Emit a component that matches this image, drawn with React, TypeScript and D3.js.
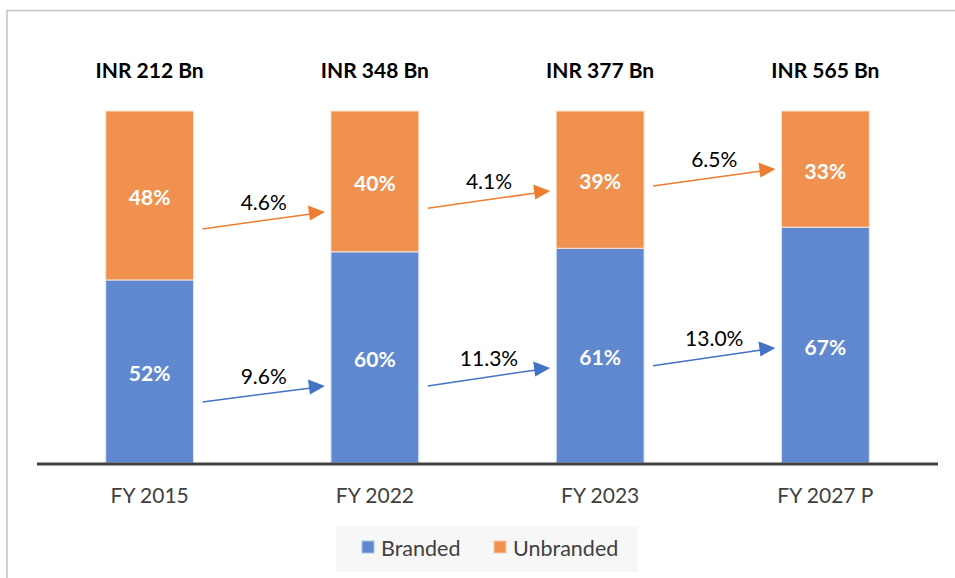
import React from "react";
import * as d3 from "d3";

const categories = ["FY 2015", "FY 2022", "FY 2023", "FY 2027 P"];
const branded = [52, 60, 61, 67];
const unbranded = [48, 40, 39, 33];
const totalsBn = [212, 348, 377, 565];
// CAGR arrows between consecutive bars: start/end level in percent of bar height
const orangeCagr = ["4.6%", "4.1%", "6.5%"];
const orangeFrom = [66.5, 72.4, 78.7];
const orangeTo = [71.3, 77.3, 83.5];
const blueCagr = ["9.6%", "11.3%", "13.0%"];
const blueFrom = [17.3, 21.9, 27.6];
const blueTo = [21.9, 27.0, 32.7];

const W = 955;
const H = 578;
const BLUE = "#6088CF";
const ORANGE = "#F0914F";
const BLUE_ARROW = "#4472C4";
const ORANGE_ARROW = "#ED7D31";
const FONT = "Lato, 'Open Sans', sans-serif";
const FS = 21;

export default function App() {
  const x = d3
    .scaleBand<string>()
    .domain(categories)
    .range([37, 938])
    .paddingInner(0.61)
    .paddingOuter(0.305);
  const y = d3.scaleLinear().domain([0, 100]).range([463, 111]);
  const bw = x.bandwidth();

  const stacks = categories.map((c, i) => ({
    c,
    b: branded[i],
    u: unbranded[i],
    t: totalsBn[i],
  }));

  const arrow = (
    i: number,
    from: number,
    to: number,
    label: string,
    color: string,
    id: string
  ) => {
    const x0 = (x(categories[i]) as number) + bw + 9;
    const x1 = (x(categories[i + 1]) as number) - 6;
    const y0 = y(from);
    const y1 = y(to);
    const mx = (x0 + x1) / 2;
    const my = (y0 + y1) / 2;
    return (
      <g key={id + i}>
        <line
          x1={x0}
          y1={y0}
          x2={x1 - 14}
          y2={y1 + 2}
          stroke={color}
          strokeWidth={1.5}
        />
        <path
          d={`M${x1},${y1} L${x1 - 17},${y1 - 6.5} L${x1 - 15},${y1 + 8.5} Z`}
          fill={color}
        />
        <text
          x={mx}
          y={my - 19}
          textAnchor="middle"
          dominantBaseline="central"
          fontSize={FS}
          fill="#000"
          fontFamily={FONT}
        >
          {label}
        </text>
      </g>
    );
  };

  return (
    <svg
      width={W}
      height={H}
      style={{ position: "absolute", left: 0, top: 0, background: "#fff" }}
    >
      <rect
        x={7}
        y={10.5}
        width={W + 20}
        height={H + 20}
        fill="none"
        stroke="#c4c4c4"
        strokeWidth={1.5}
      />
      {stacks.map((s) => {
        const bx = x(s.c) as number;
        const cx = bx + bw / 2;
        return (
          <g key={s.c}>
            <rect
              x={bx}
              y={y(s.b)}
              width={bw}
              height={y(0) - y(s.b)}
              fill={BLUE}
              stroke="#dfe7f6"
              strokeWidth={1}
            />
            <rect
              x={bx}
              y={y(s.b + s.u)}
              width={bw}
              height={y(s.b) - y(s.b + s.u)}
              fill={ORANGE}
              stroke="#fbe3d3"
              strokeWidth={1}
            />
            <text
              x={cx}
              y={(y(0) + y(s.b)) / 2 + 1}
              textAnchor="middle"
              dominantBaseline="central"
              fill="#fff"
              fontWeight="bold"
              fontSize={FS}
              fontFamily={FONT}
            >
              {s.b}%
            </text>
            <text
              x={cx}
              y={(y(s.b) + y(s.b + s.u)) / 2 + 1}
              textAnchor="middle"
              dominantBaseline="central"
              fill="#fff"
              fontWeight="bold"
              fontSize={FS}
              fontFamily={FONT}
            >
              {s.u}%
            </text>
            <text
              x={cx}
              y={69}
              textAnchor="middle"
              dominantBaseline="central"
              fill="#000"
              fontWeight="bold"
              fontSize={FS}
              fontFamily={FONT}
            >
              {`INR ${s.t} Bn`}
            </text>
            <text
              x={cx}
              y={494}
              textAnchor="middle"
              dominantBaseline="central"
              fill="#404040"
              fontSize={FS}
              fontFamily={FONT}
            >
              {s.c}
            </text>
          </g>
        );
      })}
      <line x1={37} x2={938} y1={464} y2={464} stroke="#404040" strokeWidth={3} />
      {orangeCagr.map((l, i) =>
        arrow(i, orangeFrom[i], orangeTo[i], l, ORANGE_ARROW, "o")
      )}
      {blueCagr.map((l, i) =>
        arrow(i, blueFrom[i], blueTo[i], l, BLUE_ARROW, "b")
      )}
      <rect x={336} y={526} width={302} height={46} fill="#f7f7f7" />
      <rect x={362} y={541} width={12} height={12} fill={BLUE} stroke="#a9bfe6" />
      <text
        x={381}
        y={548}
        dominantBaseline="central"
        fill="#404040"
        fontSize={21.5}
        fontFamily={FONT}
      >
        Branded
      </text>
      <rect x={494} y={541} width={12} height={12} fill={ORANGE} stroke="#f8c9a8" />
      <text
        x={513}
        y={548}
        dominantBaseline="central"
        fill="#404040"
        fontSize={21.5}
        fontFamily={FONT}
      >
        Unbranded
      </text>
    </svg>
  );
}
